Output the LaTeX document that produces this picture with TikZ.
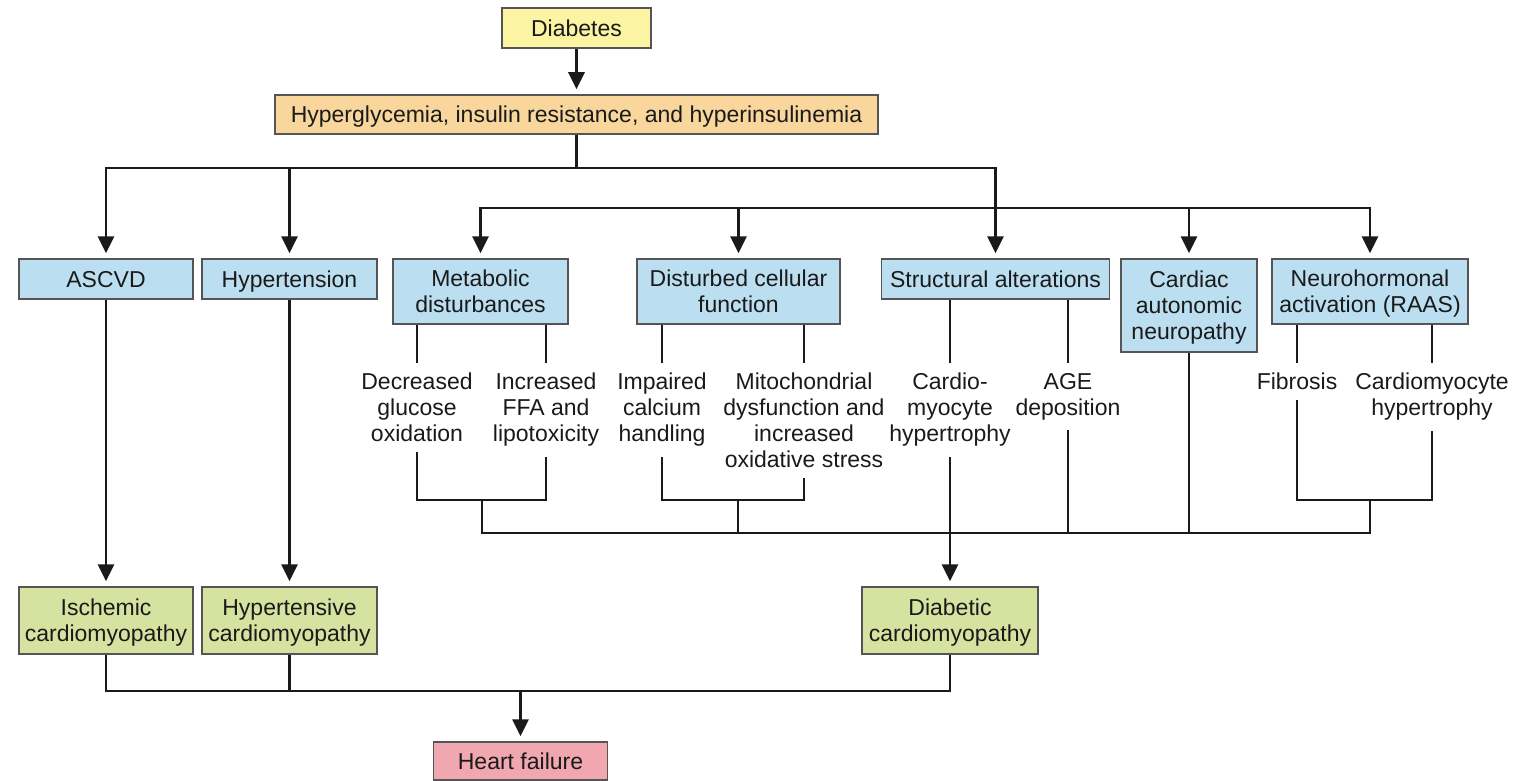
\documentclass[tikz,border=0pt]{standalone}
\usepackage{fontspec}
\setmainfont{Liberation Sans}
\usepackage{tikz}
\usetikzlibrary{
  arrows.meta,
  positioning,
  calc
}

\definecolor{rootYellow}{HTML}{FBF4A3}
\definecolor{causeOrange}{HTML}{F9D79C}
\definecolor{mechBlue}{HTML}{BBDFF0}
\definecolor{cmGreen}{HTML}{D6E2A0}
\definecolor{hfPink}{HTML}{F0A7B0}
\definecolor{edgeGray}{HTML}{555555}
\definecolor{ink}{HTML}{1A1A1A}

\begin{document}
\begin{tikzpicture}[
  x=1pt,
  y=-1pt,
  font=\fontsize{23}{26}\selectfont,
  box/.style={
    draw=edgeGray,
    line width=1.5pt,
    align=center,
    inner sep=2pt,
    text depth=0pt,
    text=ink
  },
  rootbox/.style={
    box,
    fill=rootYellow
  },
  causebox/.style={
    box,
    fill=causeOrange
  },
  mechbox/.style={
    box,
    fill=mechBlue
  },
  cmbox/.style={
    box,
    fill=cmGreen
  },
  hfbox/.style={
    box,
    fill=hfPink
  },
  effect/.style={
    align=center,
    anchor=north,
    inner xsep=2pt,
    inner ysep=10pt,
    text=ink
  },
  link/.style={
    line width=2.8pt,
    draw=ink
  },
  arrow/.style={
    link,
    -{Triangle[length=17pt,width=16pt]},
    shorten >=5pt
  }
]

\useasboundingbox (0,0) rectangle (1519,781);

% --- top of the tree ---
\node[rootbox,minimum width=149pt,minimum height=40pt] (diabetes) at (576.5,28)
  {Diabetes};
\node[causebox,minimum width=603pt,minimum height=39pt] (hyper) at (576.5,114.5)
  {Hyperglycemia, insulin resistance, and hyperinsulinemia};

% --- mechanisms ---
\node[mechbox,minimum width=174pt,minimum height=40pt] (ascvd) at (106,279)
  {ASCVD};
\node[mechbox,minimum width=175pt,minimum height=40pt] (htn) at (289.5,279)
  {Hypertension};
\node[mechbox,minimum width=175pt,minimum height=65pt] (metab) at (480.5,291.5)
  {Metabolic\\disturbances};
\node[mechbox,minimum width=203pt,minimum height=65pt] (cellular) at (738.5,291.5)
  {Disturbed cellular\\function};
\node[mechbox,minimum width=228pt,minimum height=40pt] (struct) at (995.5,279)
  {Structural alterations};
\node[mechbox,minimum width=136pt,minimum height=93pt] (autonomic) at (1189,305.5)
  {Cardiac\\autonomic\\neuropathy};
\node[mechbox,minimum width=196pt,minimum height=65pt] (raas) at (1370,291.5)
  {Neurohormonal\\activation (RAAS)};

% --- effects under the mechanisms ---
\node[effect] (glucose) at (417,363) {Decreased\\glucose\\oxidation};
\node[effect] (ffa) at (546,363) {Increased\\FFA and\\lipotoxicity};
\node[effect] (calcium) at (662,363) {Impaired\\calcium\\handling};
\node[effect] (oxstress) at (804,363)
  {Mitochondrial\\dysfunction and\\increased\\oxidative stress};
\node[effect] (cmhyp) at (950,363) {Cardio-\\myocyte\\hypertrophy};
\node[effect] (age) at (1068,363) {AGE\\deposition};
\node[effect] (fibrosis) at (1297,363) {Fibrosis};
\node[effect] (raashyp) at (1432,363) {Cardiomyocyte\\hypertrophy};

% --- cardiomyopathies and outcome ---
\node[cmbox,minimum width=174pt,minimum height=67pt] (ischemic) at (106,620.5)
  {Ischemic\\cardiomyopathy};
\node[cmbox,minimum width=175pt,minimum height=67pt] (hypertensive) at (289.5,620.5)
  {Hypertensive\\cardiomyopathy};
\node[cmbox,minimum width=176pt,minimum height=67pt] (diabcm) at (950,620.5)
  {Diabetic\\cardiomyopathy};
\node[hfbox,minimum width=174pt,minimum height=38pt] (hf) at (520.5,761)
  {Heart failure};

% --- junction points ---
\coordinate (topBus) at (576.5,168);
\coordinate (midBus) at (995.5,208);
\coordinate (metabJoin) at (482,500);
\coordinate (cellJoin) at (738,500);
\coordinate (raasJoin) at (1370,500);
\coordinate (busW) at (482,533);
\coordinate (busE) at (1370,533);
\coordinate (hfBus) at (520.5,691);

% --- downward flow ---
\draw[arrow] (diabetes) -- (hyper);
\draw[link] (hyper.south) -- (topBus);
\draw[arrow] (topBus) -| (ascvd.north);
\draw[arrow] (topBus) -| (htn.north);
\draw[arrow] (topBus) -| (struct.north);
\draw[arrow] (midBus) -| (metab.north);
\draw[arrow] (midBus) -| (cellular.north);
\draw[arrow] (midBus) -| (autonomic.north);
\draw[arrow] (midBus) -| (raas.north);

% --- mechanism to effect ---
\draw[link] (glucose.north |- metab.south) -- (glucose.north);
\draw[link] (ffa.north |- metab.south) -- (ffa.north);
\draw[link] (calcium.north |- cellular.south) -- (calcium.north);
\draw[link] (oxstress.north |- cellular.south) -- (oxstress.north);
\draw[link] (cmhyp.north |- struct.south) -- (cmhyp.north);
\draw[link] (age.north |- struct.south) -- (age.north);
\draw[link] (fibrosis.north |- raas.south) -- (fibrosis.north);
\draw[link] (raashyp.north |- raas.south) -- (raashyp.north);

% --- brackets merging into diabetic cardiomyopathy ---
\draw[link] (glucose.south) |- (metabJoin) -| (ffa.south);
\draw[link] (calcium.south) |- (cellJoin) -| (oxstress.south);
\draw[link] (fibrosis.south) |- (raasJoin) -| (raashyp.south);
\draw[link] (metabJoin) -- (busW) -- (busE) -- (raasJoin);
\draw[link] (cellJoin) -- (cellJoin |- busW);
\draw[link] (age.south) -- (age.south |- busW);
\draw[link] (autonomic.south) -- (autonomic.south |- busW);
\draw[arrow] (cmhyp.south) -- (diabcm.north);

% --- direct paths ---
\draw[arrow] (ascvd) -- (ischemic);
\draw[arrow] (htn) -- (hypertensive);

% --- outcome ---
\draw[link] (ischemic.south) |- (hfBus) -| (diabcm.south);
\draw[link] (hypertensive.south) -- (hypertensive.south |- hfBus);
\draw[arrow] (hfBus) -- (hf.north);

\end{tikzpicture}
\end{document}
